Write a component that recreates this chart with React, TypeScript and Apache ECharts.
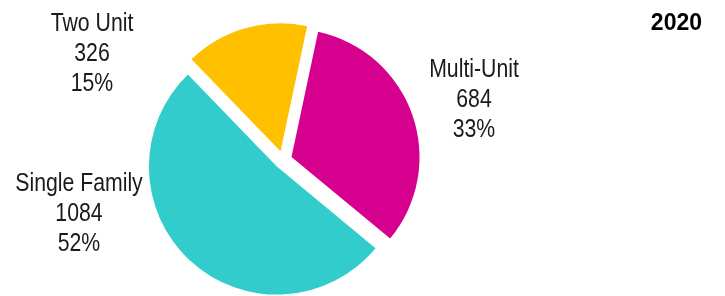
import React, { useEffect, useRef } from "react";
import * as echarts from "echarts";

const categories = ["Multi-Unit", "Single Family", "Two Unit"];
const values = [684, 1084, 326];
const colors = ["#D6008F", "#33CCCC", "#FFC000"];
const title = "2020";
// label anchor positions (style, px): centre of each label block
const labelPos = [
  [474, 98],
  [79, 212],
  [92, 52],
];

// largest-remainder percentages (same rule ECharts uses for {d})
function percents(vals: number[]): number[] {
  const total = vals.reduce((a, b) => a + b, 0);
  const raw = vals.map((v) => (v / total) * 100);
  const floors = raw.map(Math.floor);
  const left = 100 - floors.reduce((a, b) => a + b, 0);
  const order = raw.map((r, i) => [r - Math.floor(r), i]).sort((a, b) => b[0] - a[0]);
  for (let k = 0; k < left; k++) floors[order[k][1]] += 1;
  return floors;
}

export default function App() {
  const ref = useRef<HTMLDivElement>(null);
  useEffect(() => {
    if (!ref.current) return;
    const chart = echarts.init(ref.current, null, { renderer: "svg" });
    const pct = percents(values);
    chart.setOption({
      animation: false,
      title: {
        text: title,
        right: 18,
        top: 5,
        textStyle: { fontFamily: "Liberation Sans, Arial, sans-serif", fontWeight: "bold", fontSize: 23, color: "#000" },
      },
      graphic: categories.map((c, i) => ({
        type: "text",
        x: labelPos[i][0],
        y: labelPos[i][1],
        scaleX: 0.85,
        style: {
          text: `${c}\n${values[i]}\n${pct[i]}%`,
          fontFamily: "Liberation Sans, Arial, sans-serif",
          fontSize: 25,
          lineHeight: 30,
          fill: "#1a1a1a",
          align: "center",
          verticalAlign: "middle",
        },
      })),
      series: [
        {
          type: "pie",
          center: [283, 160],
          radius: 128,
          startAngle: 78,
          clockwise: true,
          selectedMode: "multiple",
          selectedOffset: 9,
          emphasis: { disabled: true },
          data: categories.map((c, i) => ({
            name: c,
            value: values[i],
            selected: true,
            itemStyle: { color: colors[i] },
          })),
          label: { show: false },
          labelLine: { show: false },
        },
      ],
    });
    return () => chart.dispose();
  }, []);
  return <div ref={ref} style={{ position: "fixed", left: 0, top: 0, width: 725, height: 296 }} />;
}
